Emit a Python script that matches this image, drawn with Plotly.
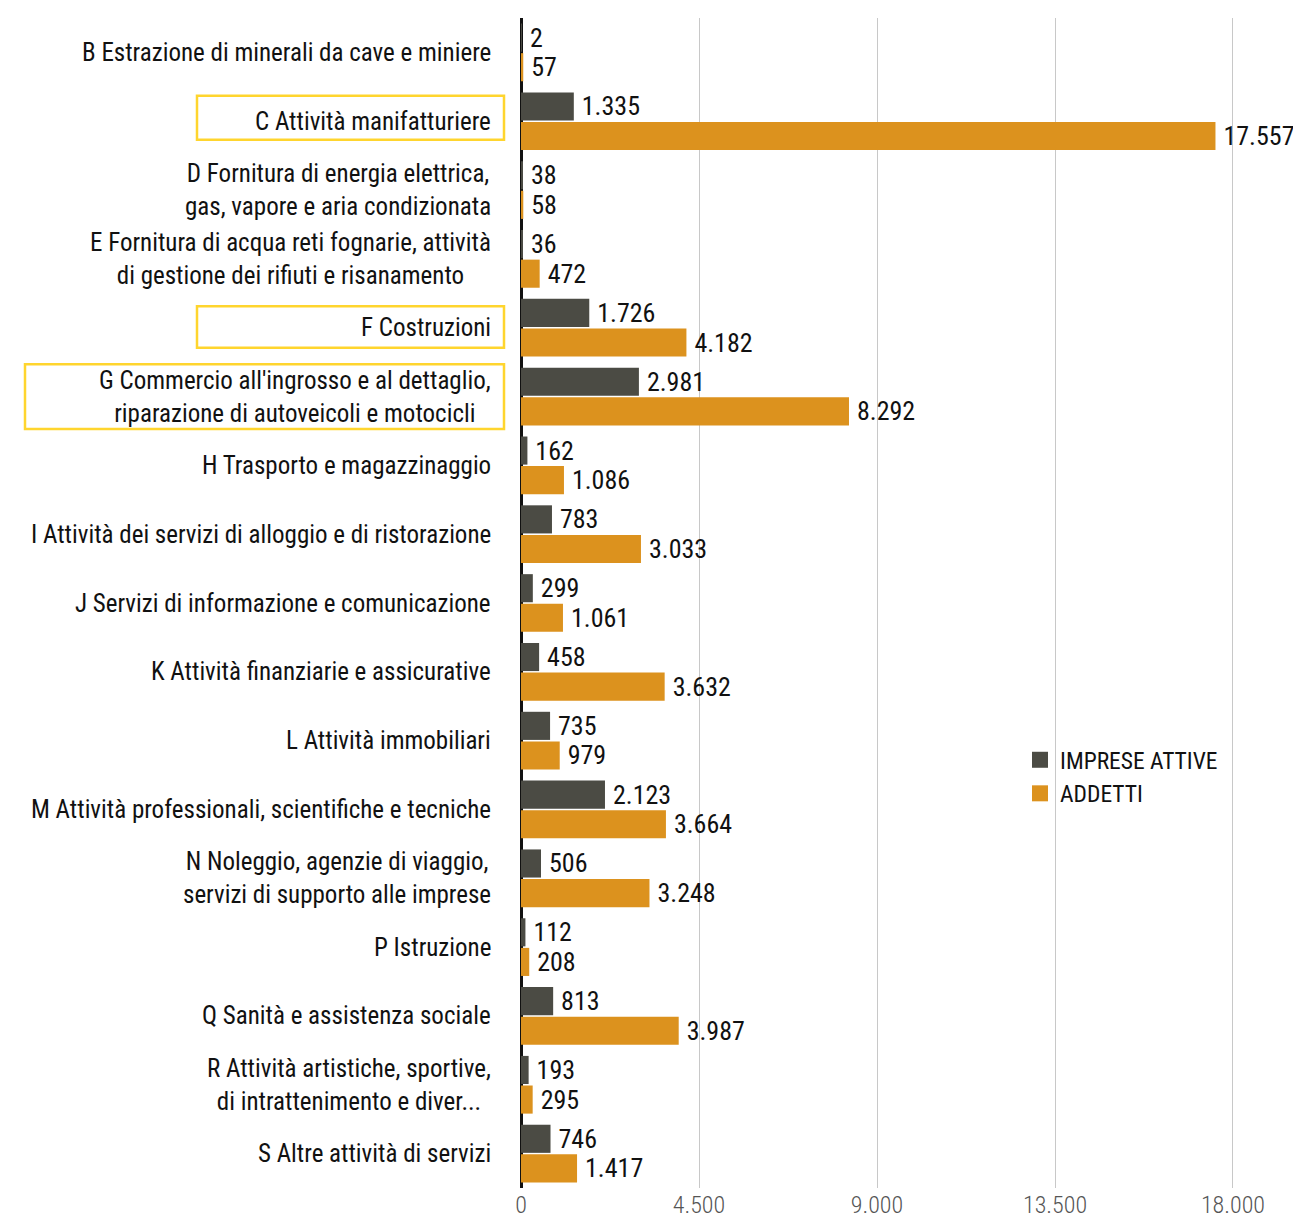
import plotly.graph_objects as go

# Settori economici (sezioni ATECO)
categories = [
    "B Estrazione di minerali da cave e miniere",
    "C Attività manifatturiere",
    "D Fornitura di energia elettrica,<br>gas, vapore e aria condizionata",
    "E Fornitura di acqua reti fognarie, attività<br>di gestione dei rifiuti e risanamento",
    "F Costruzioni",
    "G Commercio all'ingrosso e al dettaglio,<br>riparazione di autoveicoli e motocicli",
    "H Trasporto e magazzinaggio",
    "I Attività dei servizi di alloggio e di ristorazione",
    "J Servizi di informazione e comunicazione",
    "K Attività finanziarie e assicurative",
    "L Attività immobiliari",
    "M Attività professionali, scientifiche e tecniche",
    "N Noleggio, agenzie di viaggio,<br>servizi di supporto alle imprese",
    "P Istruzione",
    "Q Sanità e assistenza sociale",
    "R Attività artistiche, sportive,<br>di intrattenimento e diver...",
    "S Altre attività di servizi",
]
imprese_attive = [2, 1335, 38, 36, 1726, 2981, 162, 783, 299, 458, 735, 2123, 506, 112, 813, 193, 746]
addetti = [57, 17557, 58, 472, 4182, 8292, 1086, 3033, 1061, 3632, 979, 3664, 3248, 208, 3987, 295, 1417]
highlighted = ["C Attività manifatturiere", "F Costruzioni",
               "G Commercio all'ingrosso e al dettaglio,<br>riparazione di autoveicoli e motocicli"]
tick_values = [0, 4500, 9000, 13500, 18000]

GRAY = "#4b4b44"
ORANGE = "#dc921e"
YELLOW = "#ffd52e"
FONT = "Roboto Condensed"

fig = go.Figure()
for name, vals, color in [("IMPRESE ATTIVE", imprese_attive, GRAY), ("ADDETTI", addetti, ORANGE)]:
    fig.add_trace(go.Bar(
        y=categories, x=vals, orientation="h", name=name,
        marker=dict(color=color, line=dict(width=0)),
        texttemplate="\u2009%{x:,.0f}", textposition="outside",
        textfont=dict(family=FONT, size=26, color="#111"),
        constraintext="none", cliponaxis=False, showlegend=False,
    ))
    # legend entry with a larger square swatch
    fig.add_trace(go.Scatter(
        x=[None], y=[None], mode="markers", name=name,
        marker=dict(symbol="square", size=20, color=color),
    ))

# category labels: block right-aligned, lines centred
PX_W = 1293 - 521
label_x = (493 - 521) / PX_W
for cat in categories:
    fig.add_annotation(
        x=label_x, xref="paper", y=cat, yref="y", text=cat,
        xanchor="right", align="center", showarrow=False,
        font=dict(family=FONT, size=25, color="#111"),
    )

# yellow frames round the highlighted sectors
frame_left = {highlighted[0]: 197, highlighted[1]: 197, highlighted[2]: 25}
frame_span = {highlighted[0]: (-0.37, 0.27), highlighted[1]: (-0.31, 0.29), highlighted[2]: (-0.47, 0.47)}
for cat in highlighted:
    i = categories.index(cat)
    lo, hi = frame_span[cat]
    fig.add_shape(
        type="rect", xref="paper", yref="y",
        x0=(frame_left[cat] - 521) / PX_W, x1=(504 - 521) / PX_W,
        y0=i + lo, y1=i + hi,
        line=dict(color=YELLOW, width=2.5), fillcolor="rgba(0,0,0,0)",
    )

fig.update_layout(
    width=1293, height=1219,
    margin=dict(l=521, r=0, t=18, b=31),
    paper_bgcolor="white", plot_bgcolor="white",
    barmode="group", bargap=0.14, bargroupgap=0.05,
    separators=",.",
    font=dict(family=FONT, size=24, color="#111"),
    legend=dict(x=(1020 - 521) / PX_W, y=(1188 - 738) / 1170, xanchor="left", yanchor="top",
                font=dict(family=FONT, size=23.5, color="#111"),
                bgcolor="rgba(0,0,0,0)", tracegroupgap=0, itemwidth=30),
    xaxis=dict(range=[0, 19517], tickvals=tick_values, tickformat=",.0f",
               showgrid=True, gridcolor="#c8c8c8", gridwidth=1,
               zeroline=True, zerolinecolor="#111", zerolinewidth=2.5,
               tickfont=dict(family=FONT, size=24, color="#555", weight=300),
               ticks="", showline=False, fixedrange=True),
    yaxis=dict(categoryorder="array", categoryarray=categories, autorange="reversed",
               showticklabels=False, showgrid=False, zeroline=False, ticks=""),
)

fig.write_html("out.html")
